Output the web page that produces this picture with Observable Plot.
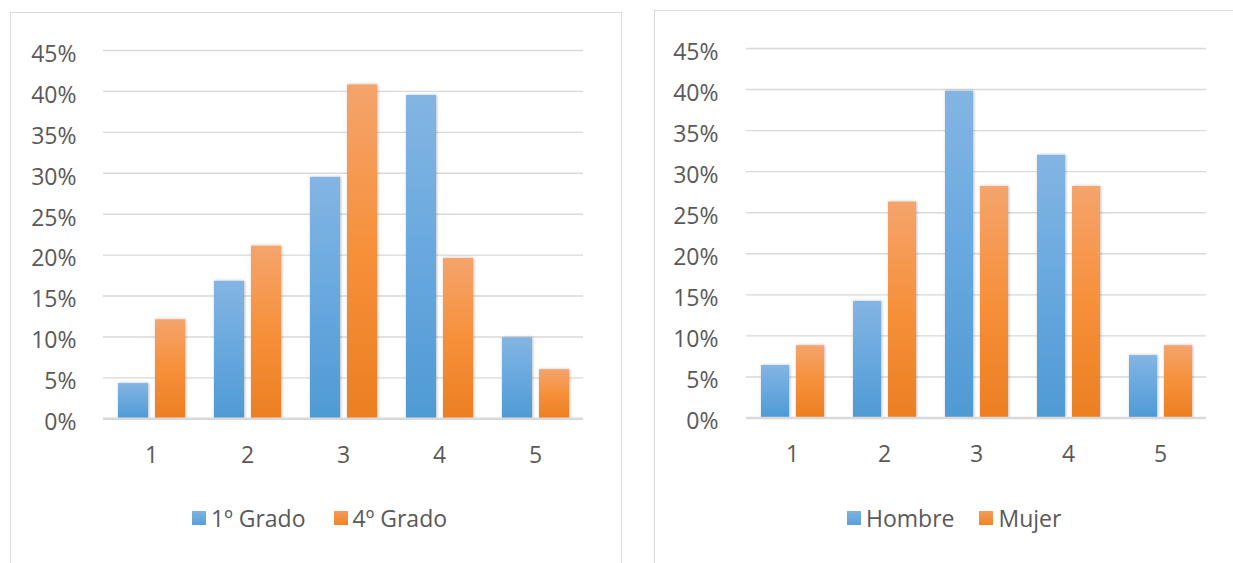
<!DOCTYPE html>
<html>
<head>
<meta charset="utf-8">
<script src="https://cdn.jsdelivr.net/npm/d3@7"></script>
<script src="https://cdn.jsdelivr.net/npm/@observablehq/plot@0.6"></script>
<style>
  html, body { margin: 0; padding: 0; background: #fff; }
  body { width: 1233px; height: 563px; position: relative; overflow: hidden; font-family: "Open Sans", sans-serif; color: #595959; }
  .frame { position: absolute; border: 1.5px solid #dadada; box-sizing: border-box; }
  .chart { position: absolute; top: 0; }
  .legend { position: absolute; display: flex; align-items: center; font-size: 23px; color: #595959; height: 28px; }
  .legend .item { display: flex; align-items: center; }
  .legend .sw { width: 14px; height: 14px; margin-right: 5px; }
</style>
</head>
<body>
<svg width="0" height="0" style="position:absolute">
  <defs>
    <linearGradient id="gBlue" x1="0" y1="0" x2="0" y2="1">
      <stop offset="0" stop-color="#83b5e3"/>
      <stop offset="0.5" stop-color="#68a8df"/>
      <stop offset="1" stop-color="#4f9ad3"/>
    </linearGradient>
    <linearGradient id="gOrange" x1="0" y1="0" x2="0" y2="1">
      <stop offset="0" stop-color="#f5a46c"/>
      <stop offset="0.5" stop-color="#f6903a"/>
      <stop offset="1" stop-color="#ec7f22"/>
    </linearGradient>
    <filter id="shadow" x="-30%" y="-10%" width="160%" height="120%">
      <feDropShadow dx="0.8" dy="0" stdDeviation="1.6" flood-color="#000" flood-opacity="0.28"/>
    </filter>
  </defs>
</svg>

<div class="frame" style="left:10px; top:12px; width:612px; height:600px;"></div>
<div class="frame" style="left:654px; top:10px; width:620px; height:600px;"></div>

<div id="left" class="chart" style="left:0px;"></div>
<div id="right" class="chart" style="left:640px;"></div>

<div class="legend" style="left:192px; top:504px;">
  <div class="item"><span class="sw" style="background:linear-gradient(#7fb3e1,#5a9fd7)"></span><span>1º Grado</span></div>
  <div class="item" style="margin-left:28px;"><span class="sw" style="background:linear-gradient(#f49c5a,#ef8426)"></span><span>4º Grado</span></div>
</div>
<div class="legend" style="left:847px; top:504px;">
  <div class="item"><span class="sw" style="background:linear-gradient(#7fb3e1,#5a9fd7)"></span><span>Hombre</span></div>
  <div class="item" style="margin-left:25px;"><span class="sw" style="background:linear-gradient(#f49c5a,#ef8426)"></span><span>Mujer</span></div>
</div>

<script>
// ---- data ----
const categories = ["1", "2", "3", "4", "5"];
const seriesLeft = ["1º Grado", "4º Grado"];
const grado1 = [0.043, 0.168, 0.295, 0.395, 0.099];
const grado4 = [0.121, 0.211, 0.408, 0.196, 0.060];
const seriesRight = ["Hombre", "Mujer"];
const hombre = [0.064, 0.142, 0.398, 0.320, 0.076];
const mujer = [0.088, 0.263, 0.282, 0.282, 0.088];
const yTicks = [0, 0.05, 0.10, 0.15, 0.20, 0.25, 0.30, 0.35, 0.40, 0.45];

function toRows(series, a, b) {
  const rows = [];
  categories.forEach((c, i) => {
    rows.push({cat: c, series: series[0], value: a[i]});
    rows.push({cat: c, series: series[1], value: b[i]});
  });
  return rows;
}

function chart(rows, series, opts) {
  const svg = Plot.plot({
    width: opts.width,
    height: opts.height,
    marginLeft: opts.marginLeft,
    marginRight: opts.marginRight,
    marginTop: opts.marginTop,
    marginBottom: opts.marginBottom,
    style: {fontFamily: "'Open Sans', sans-serif", fontSize: "23px", color: "#595959", background: "transparent", overflow: "visible"},
    fx: {domain: categories, padding: 0, axis: "bottom", tickSize: 0, tickPadding: 28, label: null},
    x: {domain: series, paddingInner: 0.2, paddingOuter: 0.39, axis: null},
    y: {domain: [0, 0.45], axis: null},
    color: {domain: series, range: ["url(#gBlue)", "url(#gOrange)"]},
    marks: [
      Plot.ruleY(yTicks.filter(d => d > 0), {stroke: "#d9d9d9", strokeWidth: 1.4}),
      Plot.axisY({ticks: yTicks, tickFormat: d => Math.round(d * 100) + "%", tickSize: 0, tickPadding: opts.tickPad, dy: 4, label: null}),
      Plot.barY(rows, {fx: "cat", x: "series", y: "value", fill: "series"}),
      Plot.ruleY([0], {stroke: "#d9d9d9", strokeWidth: 2.6})
    ]
  });
  svg.querySelectorAll('g[aria-label="bar"] rect').forEach(r => r.setAttribute("filter", "url(#shadow)"));
  return svg;
}

document.getElementById("left").appendChild(chart(toRows(seriesLeft, grado1, grado4), seriesLeft, {
  width: 620, height: 480, marginLeft: 101, marginRight: 36, marginTop: 50, marginBottom: 61.7, tickPad: 27
}));
document.getElementById("right").appendChild(chart(toRows(seriesRight, hombre, mujer), seriesRight, {
  width: 593, height: 480, marginLeft: 106, marginRight: 27, marginTop: 48, marginBottom: 62.5, tickPad: 28
}));
</script>
</body>
</html>
